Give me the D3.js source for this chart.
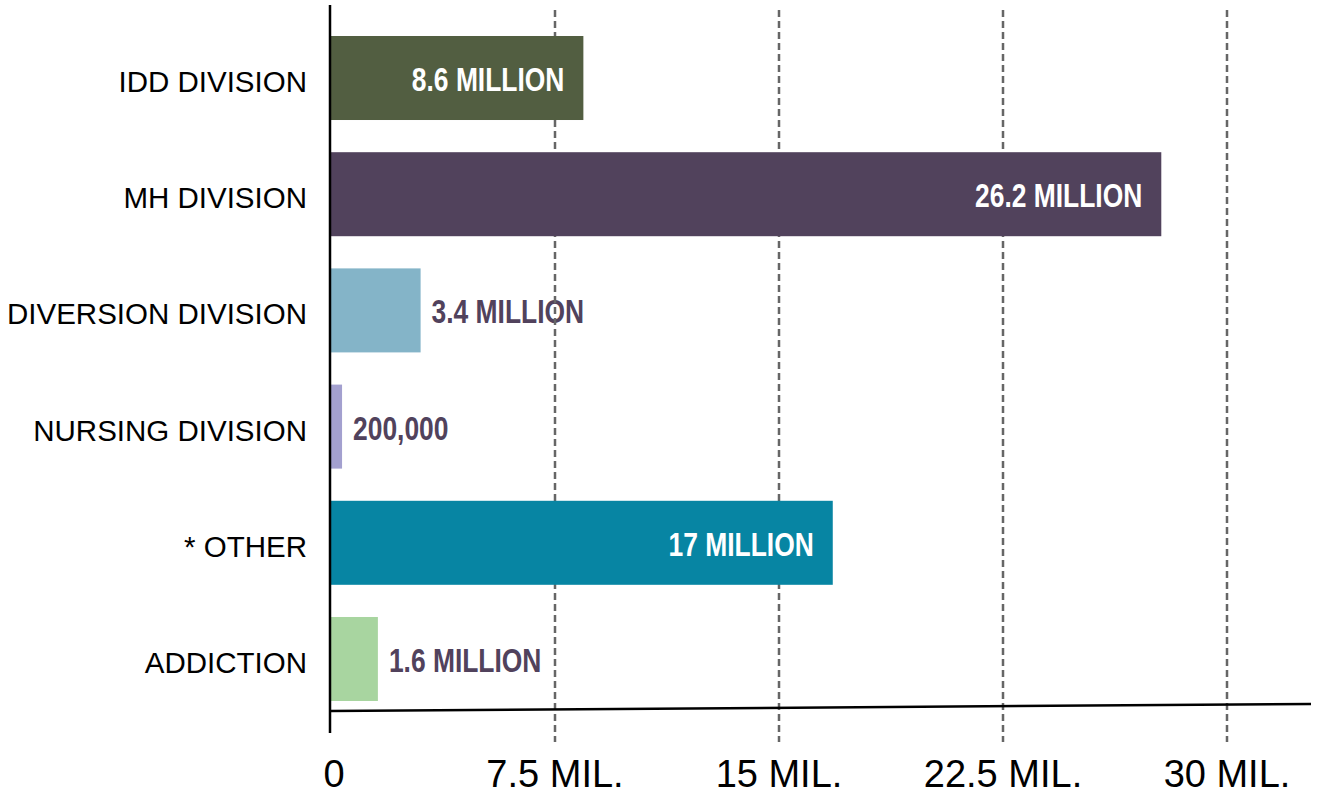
<!DOCTYPE html>
<html>
<head>
<meta charset="utf-8">
<script src="https://cdn.jsdelivr.net/npm/d3@7"></script>
<style>
  html, body { margin: 0; padding: 0; background: #fff; }
  svg { display: block; }
  .cat { font-family: "Liberation Sans", Arial, sans-serif; font-size: 29.5px; fill: #000; }
  .tick-label { font-family: "Liberation Sans", Arial, sans-serif; font-size: 38px; fill: #000; }
  .val { font-family: "Liberation Sans", Arial, sans-serif; font-weight: bold; font-size: 33px; }
</style>
</head>
<body>
<svg id="chart" width="1317" height="797"></svg>
<script>
// Categories, top to bottom
const categories = ['IDD DIVISION', 'MH DIVISION', 'DIVERSION DIVISION', 'NURSING DIVISION', '* OTHER', 'ADDICTION'];
// Bar lengths as drawn (millions)
const barValues = [8.45, 27.8, 3.0, 0.37, 16.8, 1.57];
// Printed value labels
const valueLabels = ['8.6 MILLION', '26.2 MILLION', '3.4 MILLION', '200,000', '17 MILLION', '1.6 MILLION'];
const labelInside = [true, true, false, false, true, false];
const barColors = ['#525e41', '#51425c', '#84b4c8', '#a3a0cf', '#0785a3', '#a8d5a0'];
const tickValues = [0, 7.5, 15, 22.5, 30];
const tickLabels = ['0', '7.5 MIL.', '15 MIL.', '22.5 MIL.', '30 MIL.'];

const svg = d3.select('#chart');
const x = d3.scaleLinear().domain([0, 30]).range([331, 1227]);
const y = d3.scaleBand().domain(categories).range([36, 701]).paddingInner(0.277).paddingOuter(0);
const squeeze = 0.8; // condensed look for value labels

const valX = (d, i) => labelInside[i] ? x(barValues[i]) - 19 : x(barValues[i]) + 11;
const valY = d => y(d) + y.bandwidth() / 2 + 13;

function drawValues(g, inside) {
  g.selectAll('text')
    .data(categories.map((c, i) => ({ c, i })).filter(o => labelInside[o.i] === inside))
    .join('text')
    .attr('class', 'val')
    .attr('transform', o => `translate(${valX(o.c, o.i)},${valY(o.c)}) scale(${squeeze},1)`)
    .attr('text-anchor', inside ? 'end' : 'start')
    .attr('fill', inside ? '#fff' : '#51425c')
    .text(o => valueLabels[o.i]);
}

// outside value labels sit beneath the grid lines
drawValues(svg.append('g'), false);

// dashed grid lines
svg.append('g').selectAll('line')
  .data(tickValues.slice(1))
  .join('line')
  .attr('x1', d => x(d)).attr('x2', d => x(d))
  .attr('y1', 10).attr('y2', 742)
  .attr('stroke', '#666').attr('stroke-width', 2.5)
  .attr('stroke-dasharray', '7,4');

// bars
svg.append('g').selectAll('rect')
  .data(categories)
  .join('rect')
  .attr('x', x(0))
  .attr('y', d => y(d))
  .attr('width', (d, i) => x(barValues[i]) - x(0))
  .attr('height', y.bandwidth())
  .attr('fill', (d, i) => barColors[i]);

drawValues(svg.append('g'), true);

// category labels
svg.append('g').selectAll('text')
  .data(categories)
  .join('text')
  .attr('class', 'cat')
  .attr('x', 307)
  .attr('y', d => y(d) + y.bandwidth() / 2 + 14)
  .attr('text-anchor', 'end')
  .text(d => d);

// axes: y axis line and slightly tilted x axis line
svg.append('line')
  .attr('x1', 330).attr('x2', 330).attr('y1', 5).attr('y2', 733)
  .attr('stroke', '#000').attr('stroke-width', 2.5);
svg.append('line')
  .attr('x1', 330).attr('y1', 711).attr('x2', 1311).attr('y2', 704)
  .attr('stroke', '#000').attr('stroke-width', 2.5);

// tick labels
svg.append('g').selectAll('text')
  .data(tickValues)
  .join('text')
  .attr('class', 'tick-label')
  .attr('x', d => x(d) + (d === 0 ? 3 : 0))
  .attr('y', 787)
  .attr('text-anchor', 'middle')
  .text((d, i) => tickLabels[i]);
</script>
</body>
</html>
